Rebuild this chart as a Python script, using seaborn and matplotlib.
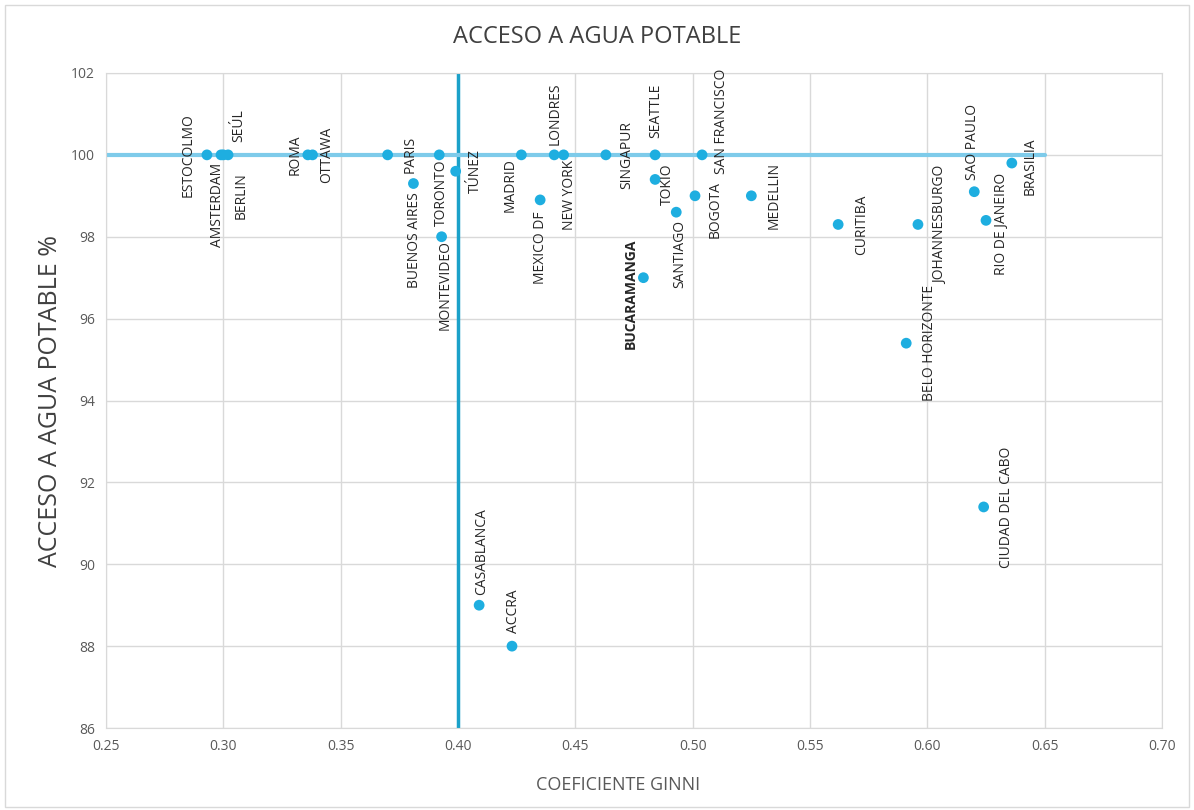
import pandas as pd
import numpy as np
import matplotlib
matplotlib.use('Agg')
import matplotlib.pyplot as plt
from matplotlib.patches import Rectangle
import seaborn as sns

# datos
ciudades = ['ESTOCOLMO', 'AMSTERDAM', 'BERLIN', 'SEÚL', 'ROMA', 'OTTAWA', 'PARIS',
            'BUENOS AIRES', 'TORONTO', 'MONTEVIDEO', 'TÚNEZ', 'MADRID', 'MEXICO DF',
            'LONDRES', 'NEW YORK', 'SINGAPUR', 'SEATTLE', 'TOKIO', 'SANTIAGO',
            'BUCARAMANGA', 'BOGOTA', 'SAN FRANCISCO', 'MEDELLIN', 'CURITIBA',
            'JOHANNESBURGO', 'BELO HORIZONTE', 'SAO PAULO', 'RIO DE JANEIRO',
            'BRASILIA', 'CIUDAD DEL CABO', 'CASABLANCA', 'ACCRA']
ginni = [0.293, 0.299, 0.300, 0.302, 0.336, 0.338, 0.370,
         0.381, 0.392, 0.393, 0.399, 0.427, 0.435,
         0.441, 0.445, 0.463, 0.484, 0.484, 0.493,
         0.479, 0.501, 0.504, 0.525, 0.562,
         0.596, 0.591, 0.620, 0.625,
         0.636, 0.624, 0.409, 0.423]
agua = [100, 100, 100, 100, 100, 100, 100,
        99.3, 100, 98.0, 99.6, 100, 98.9,
        100, 100, 100, 100, 99.4, 98.6,
        97.0, 99.0, 100, 99.0, 98.3,
        98.3, 95.4, 99.1, 98.4,
        99.8, 91.4, 89.0, 88.0]
x_ticks = [0.25, 0.30, 0.35, 0.40, 0.45, 0.50, 0.55, 0.60, 0.65, 0.70]
y_ticks = [86, 88, 90, 92, 94, 96, 98, 100, 102]
linea_h = 100
linea_h_fin = 0.65
linea_v = 0.40

df = pd.DataFrame({'ciudad': ciudades, 'ginni': ginni, 'agua': agua})

# posicion de cada etiqueta (offset en pixeles, alineacion vertical)
offsets = {
    'ESTOCOLMO': (-19, 0, 'center'), 'AMSTERDAM': (-4, -8, 'top'),
    'BERLIN': (18, -17, 'top'), 'SEÚL': (11, 13, 'bottom'),
    'ROMA': (-13, 0, 'center'), 'OTTAWA': (14, 0, 'center'),
    'PARIS': (23, 0, 'center'), 'BUENOS AIRES': (1, -9, 'top'),
    'TORONTO': (2, -5, 'top'), 'MONTEVIDEO': (4, -3, 'top'),
    'TÚNEZ': (20, 0, 'center'), 'MADRID': (-11, -3, 'top'),
    'MEXICO DF': (0, -11, 'top'), 'LONDRES': (1, 10, 'bottom'),
    'NEW YORK': (6, -5, 'top'), 'SINGAPUR': (21, 0, 'center'),
    'SEATTLE': (1, 17, 'bottom'), 'TOKIO': (12, -5, 'center'),
    'SANTIAGO': (3, -8, 'top'), 'BUCARAMANGA': (-13, -16, 'center'),
    'BOGOTA': (20, -14, 'center'), 'SAN FRANCISCO': (19, 33, 'center'),
    'MEDELLIN': (23, 0, 'center'), 'CURITIBA': (23, 0, 'center'),
    'JOHANNESBURGO': (23, 0, 'center'), 'BELO HORIZONTE': (23, 0, 'center'),
    'SAO PAULO': (-2, 12, 'bottom'), 'RIO DE JANEIRO': (15, -4, 'center'),
    'BRASILIA': (18, -3, 'center'), 'CIUDAD DEL CABO': (23, 0, 'center'),
    'CASABLANCA': (2, 10, 'bottom'), 'ACCRA': (2, 13, 'bottom'),
}

sns.set_style('white')
plt.rcParams['font.family'] = ['Open Sans', 'DejaVu Sans']

fig = plt.figure(figsize=(11.94, 8.10), dpi=100)
ax = fig.add_axes([0.0888, 0.1012, 0.8844, 0.8087])
fig.add_artist(Rectangle((0.004, 0.004), 0.992, 0.99, transform=fig.transFigure,
                         fill=False, edgecolor='#d9d9d9', linewidth=1))

ax.axvline(linea_v, color='#1ba1c9', linewidth=2.5, zorder=2)
ax.plot([x_ticks[0], linea_h_fin], [linea_h, linea_h], color='#7ecbea', linewidth=3, zorder=2)

sns.scatterplot(data=df, x='ginni', y='agua', ax=ax, color='#1eaee0', s=60,
                edgecolor='none', zorder=3)

for _, r in df.iterrows():
    dx, dy, va = offsets[r['ciudad']]
    ax.annotate(r['ciudad'], (r['ginni'], r['agua']), xytext=(dx, dy),
                textcoords='offset pixels', rotation=90, ha='center', va=va,
                fontsize=10, color='#262626',
                fontweight='bold' if r['ciudad'] == 'BUCARAMANGA' else 'normal',
                zorder=4)

ax.set_xlim(0.25, 0.70)
ax.set_ylim(86, 102)
ax.set_xticks(x_ticks)
ax.set_xticklabels([f'{t:.2f}' for t in x_ticks])
ax.set_yticks(y_ticks)
ax.grid(True, color='#d9d9d9', linewidth=1)
ax.set_axisbelow(True)
for s in ax.spines.values():
    s.set_color('#d9d9d9')
ax.tick_params(axis='both', length=0, labelsize=10, labelcolor='#595959', pad=8)

fig.text(0.5, 1 - 37 / 810, 'ACCESO A AGUA POTABLE', fontsize=17, color='#404040',
         ha='center', va='center')
ax.set_xlabel('COEFICIENTE GINNI', fontsize=13, color='#595959')
ax.xaxis.set_label_coords((618 - 106) / 1056, -48 / 655)
ax.set_ylabel('ACCESO A AGUA POTABLE %', fontsize=18, color='#404040', labelpad=6)

fig.savefig('out.png', dpi=100)
